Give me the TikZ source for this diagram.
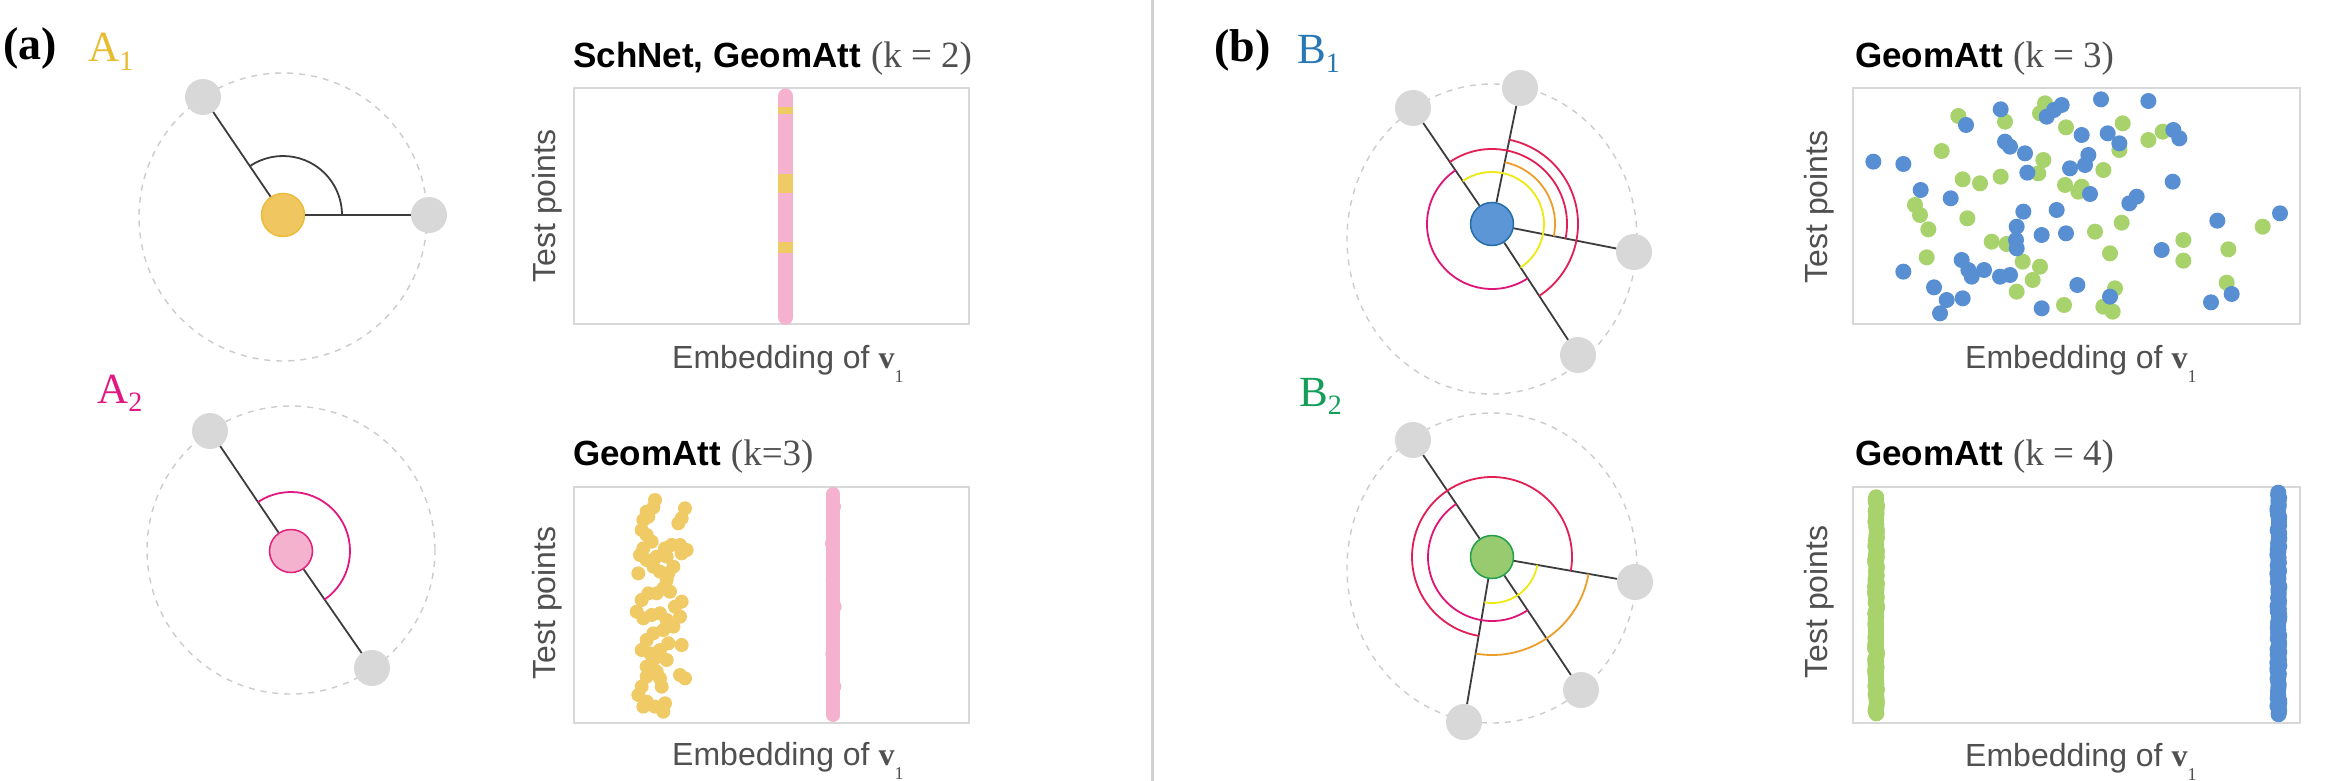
\documentclass[tikz,border=0pt]{standalone}
\usepackage{fontspec}
\setmainfont{Liberation Serif}
\newfontfamily\sansf{Liberation Sans}
\newcommand\fsz[1]{\fontsize{#1pt}{#1pt}\selectfont}
\definecolor{atomgrey}{RGB}{216,216,216}
\definecolor{bondc}{RGB}{60,60,60}
\definecolor{ringc}{RGB}{204,204,204}
\definecolor{yelfill}{RGB}{240,198,96}
\definecolor{yeledge}{RGB}{236,188,60}
\definecolor{pinkfill}{RGB}{244,178,206}
\definecolor{pinkedge}{RGB}{226,32,122}
\definecolor{bluefill}{RGB}{92,150,214}
\definecolor{blueedge}{RGB}{38,110,170}
\definecolor{greenfill}{RGB}{152,202,112}
\definecolor{greenedge}{RGB}{34,160,72}
\definecolor{labA1}{RGB}{232,188,48}
\definecolor{labA2}{RGB}{226,24,130}
\definecolor{labB1}{RGB}{40,120,182}
\definecolor{labB2}{RGB}{20,158,90}
\definecolor{arcyellow}{RGB}{238,232,20}
\definecolor{arcorange}{RGB}{236,158,40}
\definecolor{arcred}{RGB}{226,30,84}
\definecolor{arcmag}{RGB}{222,20,120}
\definecolor{framec}{RGB}{216,216,216}
\definecolor{labc}{RGB}{80,80,80}
\definecolor{ptpink}{RGB}{244,178,206}
\definecolor{ptyellow}{RGB}{240,202,100}
\definecolor{ptblue}{RGB}{88,142,210}
\definecolor{ptgreen}{RGB}{168,210,108}
\definecolor{divc}{RGB}{208,208,208}
\tikzset{
  gatom/.style={circle, fill=atomgrey, inner sep=0pt, minimum size=36pt},
  catom/.style={circle, inner sep=0pt, minimum size=43pt, line width=1.5pt},
  bond/.style={draw=bondc, line width=1.8pt},
  ring/.style={draw=ringc, dash pattern=on 6pt off 6pt, line width=1.4pt},
  angarc/.style={line width=1.8pt},
  plotframe/.style={draw=framec, line width=2.5pt, inner sep=0pt, fill=white},
  ptitle/.style={anchor=base west, inner sep=0pt},
  axlab/.style={font=\sansf\fsz{32}, text=labc, inner sep=0pt},
  panellab/.style={anchor=base west, inner sep=0pt},
}
\newcommand\embtext{Embedding of {\rmfamily\bfseries v}\raisebox{-0.45em}{\rmfamily\fsz{18}1}}
\newcommand\ttl[2]{{\sansf\bfseries\fsz{35}#1}\hspace{10pt}{\color{labc}\fsz{37}#2}}
\begin{document}
\begin{tikzpicture}[x=1pt,y=1pt]
\fill[white] (0,0) rectangle (2328,-781);
\useasboundingbox (0,0) rectangle (2328,-781);

% divider
\coordinate (dtop) at (1152,0);
\coordinate (dbot) at (1152,-781);
\draw[divc, line width=3pt] (dtop) -- (dbot);

% panel labels
\node[panellab] (la) at (3,-60) {\bfseries\fsz{46}(a)};
\node[panellab, text=labA1] (lA1) at (88,-62) {\fsz{43}A\raisebox{-0.2em}{\fsz{28}1}};
\node[panellab, text=labA2] (lA2) at (97,-403) {\fsz{43}A\raisebox{-0.2em}{\fsz{28}2}};
\node[panellab] (lb) at (1214,-62) {\bfseries\fsz{46}(b)};
\node[panellab, text=labB1] (lB1) at (1297,-64) {\fsz{43}B\raisebox{-0.2em}{\fsz{28}1}};
\node[panellab, text=labB2] (lB2) at (1299,-406) {\fsz{43}B\raisebox{-0.2em}{\fsz{28}2}};

% ---------- A1 ----------
\draw[ring] (283,-217) circle[radius=144pt];
\node[gatom] (a1g1) at (203,-97) {};
\node[gatom] (a1g2) at (429,-215) {};
\node[catom, fill=yelfill, draw=yeledge] (a1c) at (283,-215) {};
\draw[bond] (a1c) -- (a1g1);
\draw[bond] (a1c) -- (a1g2);
\draw[angarc, bondc] ([shift={(124.1:59pt)}]a1c.center) arc[start angle=124.1, end angle=0, radius=59pt];

% ---------- A2 ----------
\draw[ring] (291,-550) circle[radius=144pt];
\node[gatom] (a2g1) at (210,-431) {};
\node[gatom] (a2g2) at (372,-668) {};
\node[catom, fill=pinkfill, draw=pinkedge] (a2c) at (291,-551) {};
\draw[bond] (a2c) -- (a2g1);
\draw[bond] (a2c) -- (a2g2);
\draw[angarc, labA2] ([shift={(124:59pt)}]a2c.center) arc[start angle=124, end angle=-55.3, radius=59pt];

% ---------- B1 ----------
\draw[ring] (1492,-239) ellipse[x radius=145pt, y radius=155pt];
\node[gatom] (b1g1) at (1413,-108) {};
\node[gatom] (b1g2) at (1520,-88) {};
\node[gatom] (b1g3) at (1634,-252) {};
\node[gatom] (b1g4) at (1578,-355) {};
\node[catom, fill=bluefill, draw=blueedge] (b1c) at (1492,-224) {};
\foreach \g in {b1g1,b1g2,b1g3,b1g4} \draw[bond] (b1c) -- (\g);
\draw[angarc, arcyellow] ([shift={(124.3:52pt)}]b1c.center) arc[start angle=124.3, end angle=-56.7, radius=52pt];
\draw[angarc, arcorange] ([shift={(78.4:63pt)}]b1c.center) arc[start angle=78.4, end angle=-11.2, radius=63pt];
\draw[angarc, arcmag] ([shift={(124.3:65pt)}]b1c.center) arc[start angle=124.3, end angle=303.3, radius=65pt];
\draw[angarc, arcred] ([shift={(124.3:75pt)}]b1c.center) arc[start angle=124.3, end angle=-11.2, radius=75pt];
\draw[angarc, arcred] ([shift={(78.4:86pt)}]b1c.center) arc[start angle=78.4, end angle=-56.7, radius=86pt];

% ---------- B2 ----------
\draw[ring] (1492,-568) ellipse[x radius=145pt, y radius=155pt];
\node[gatom] (b2g1) at (1413,-440) {};
\node[gatom] (b2g2) at (1635,-582) {};
\node[gatom] (b2g3) at (1581,-690) {};
\node[gatom] (b2g4) at (1464,-722) {};
\node[catom, fill=greenfill, draw=greenedge] (b2c) at (1492,-557) {};
\foreach \g in {b2g1,b2g2,b2g3,b2g4} \draw[bond] (b2c) -- (\g);
\draw[angarc, arcyellow] ([shift={(-9.9:46pt)}]b2c.center) arc[start angle=-9.9, end angle=-99.6, radius=46pt];
\draw[angarc, arcmag] ([shift={(124:64pt)}]b2c.center) arc[start angle=124, end angle=303.8, radius=64pt];
\draw[angarc, arcred] ([shift={(-9.9:80pt)}]b2c.center) arc[start angle=-9.9, end angle=260.4, radius=80pt];
\draw[angarc, arcorange] ([shift={(-9.9:98pt)}]b2c.center) arc[start angle=-9.9, end angle=-99.6, radius=98pt];

% ---------- plot frames ----------
\node[plotframe, minimum width=395pt, minimum height=236pt] (box1) at (771.5,-206) {};
\node[plotframe, minimum width=395pt, minimum height=236pt] (box2) at (771.5,-605) {};
\node[plotframe, minimum width=447pt, minimum height=236pt] (box3) at (2076.5,-206) {};
\node[plotframe, minimum width=447pt, minimum height=236pt] (box4) at (2076.5,-605) {};

% titles
\node[ptitle] (t1) at (573,-68) {\ttl{SchNet, GeomAtt}{(k = 2)}};
\node[ptitle] (t2) at (573,-465) {\ttl{GeomAtt}{(k=3)}};
\node[ptitle] (t3) at (1855,-68) {\ttl{GeomAtt}{(k = 3)}};
\node[ptitle] (t4) at (1855,-465) {\ttl{GeomAtt}{(k = 4)}};

% axis labels
\node[axlab, rotate=90] (y1) at (547,-206) {Test points};
\node[axlab, rotate=90] (y2) at (547,-603) {Test points};
\node[axlab, rotate=90] (y3) at (1819,-207) {Test points};
\node[axlab, rotate=90] (y4) at (1819,-602) {Test points};
\node[axlab, anchor=base west] (x1) at (672,-368) {\embtext};
\node[axlab, anchor=base west] (x2) at (672,-765) {\embtext};
\node[axlab, anchor=base west] (x3) at (1965,-368) {\embtext};
\node[axlab, anchor=base west] (x4) at (1965,-766) {\embtext};

% ---------- plot 1 data ----------
\begin{scope}[shift={(500pt,-40pt)}, x={(0.33333pt,0pt)}, y={(0pt,-0.33333pt)}]
  \draw[ptpink, line width=15pt, line cap=round] (857,168) -- (857,832);
  \fill[ptyellow] (835,200) rectangle (879,222);
  \fill[ptyellow] (835,402) rectangle (879,458);
  \fill[ptyellow] (835,607) rectangle (879,638);
\end{scope}

% ---------- plot 2 data ----------
\begin{scope}[shift={(500pt,-420pt)}, x={(0.33333pt,0pt)}, y={(0pt,-0.33333pt)}]
  \draw[ptpink, line width=14pt, line cap=round] (1000,222) -- (1000,885);
  \foreach \a/\b in {996/370,1004/560,997/700,1003/800,998/480,1002/260}
    \fill[ptpink] (\a,\b) circle[radius=7pt];
  \foreach \a/\b in {465/240,460/262,440/275,430/300,445/290,425/330,440/345,455/365,430/385,420/405,440/420,460/440,480/455,505/460,520/440,500/410,495/385,515/375,540/375,560/390,545/400,555/265,545/295,535/310,500/480,490/505,510/515,470/520,445/520,425/540,410/575,430/595,455/585,480/580,500/600,525/560,545/545,540/590,520/620,490/630,460/640,440/660,425/690,450/700,480/690,505/670,545/675,440/740,470/755,440/770,425/800,415/825,440/845,465/860,490/875,495/850,485/800,480/775,540/765,555/775,460/720,500/720,430/860,415/460,470/410}
    \fill[ptyellow] (\a,\b) circle[radius=7pt];
\end{scope}

% ---------- plot 3 data ----------
\begin{scope}[shift={(1780pt,-40pt)}, x={(0.33333pt,0pt)}, y={(0pt,-0.33333pt)}]
  \foreach \a/\b in {535/228,675/245,485/333,548/418,600/430,662/410,405/495,420/525,445/568,562/535,440/652,635/605,680/612,728/665,780/680,758/720,710/755,790/360,775/400,795/190,780/220,858/262,855/435,905/440,895/455,970/390,945/575,990/640,1028/250,1025/548,1105/300,1148/275,1210/600,1210/662,1005/745,970/800,998/815,852/795,1340/728,1345/628,1448/560,1018/330}
    \fill[ptgreen] (\a,\b) circle[radius=8pt];
  \foreach \a/\b in {280/365,370/372,422/450,512/475,558/255,662/208,675/305,690/320,735/340,742/398,730/515,710/560,708/600,710/625,545/660,565/690,575/710,612/690,660/710,690/705,370/695,462/742,500/780,480/820,548/775,785/585,785/805,830/510,858/580,892/735,870/385,905/285,925/345,915/375,930/462,963/178,983/280,1018/310,1048/490,1070/470,1105/183,1145/630,1178/425,1180/270,1198/295,800/230,822/210,845/195,990/770,1293/787,1312/542,1355/762,1500/520}
    \fill[ptblue] (\a,\b) circle[radius=8pt];
\end{scope}

% ---------- plot 4 data ----------
\begin{scope}[shift={(1780pt,-420pt)}, x={(0.33333pt,0pt)}, y={(0pt,-0.33333pt)}]
  \pgfmathsetseed{7}
  \draw[ptgreen, line width=15pt, line cap=round] (288,232) -- (288,880);
  \draw[ptblue, line width=15pt, line cap=round] (1495,218) -- (1495,884);
  \foreach \i in {0,...,80}
    \fill[ptgreen] ({288+3*rand},{232+\i*8.1}) circle[radius=8pt];
  \foreach \i in {0,...,82}
    \fill[ptblue] ({1495+3*rand},{218+\i*8.1}) circle[radius=8pt];
\end{scope}
\end{tikzpicture}
\end{document}
